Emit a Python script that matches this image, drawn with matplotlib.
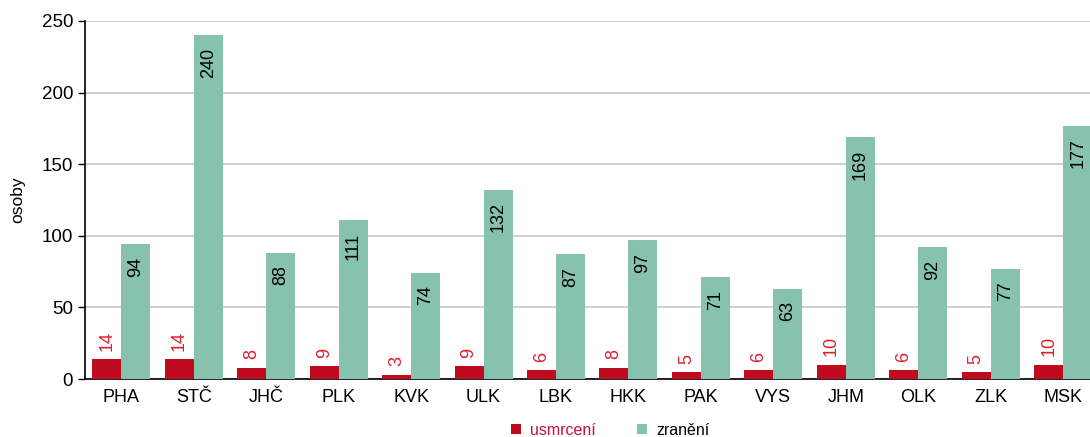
import numpy as np
import matplotlib.pyplot as plt

plt.rcParams['font.family'] = ['Liberation Sans', 'DejaVu Sans']

kraje = ['PHA', 'STČ', 'JHČ', 'PLK', 'KVK', 'ULK', 'LBK', 'HKK', 'PAK', 'VYS', 'JHM', 'OLK', 'ZLK', 'MSK']
usmrceni = [14, 14, 8, 9, 3, 9, 6, 8, 5, 6, 10, 6, 5, 10]
zraneni = [94, 240, 88, 111, 74, 132, 87, 97, 71, 63, 169, 92, 77, 177]

red = '#c00a1e'
green = '#86c2ad'

fig = plt.figure(figsize=(10.9, 4.37), dpi=100)
ax = fig.add_axes([0.078, 0.1327, 0.922, 0.8193])

x = np.arange(len(kraje))
w = 0.4
b1 = ax.bar(x - w/2, usmrceni, w, color=red, label='usmrcení', zorder=3)
b2 = ax.bar(x + w/2, zraneni, w, color=green, label='zranění', zorder=3)

# popisky hodnot
for xi, v in zip(x, usmrceni):
    ax.annotate(str(v), (xi - w/2, v), xytext=(0, 6), textcoords='offset points',
                rotation=90, ha='center', va='bottom', color='#e0202e', fontsize=13)
for xi, v in zip(x, zraneni):
    ax.annotate(str(v), (xi + w/2, v), xytext=(0, -9), textcoords='offset points',
                rotation=90, ha='center', va='top', color='black', fontsize=13)

ax.set_xlim(-0.5, 13.37)
ax.set_ylim(0, 250)
ax.set_yticks(range(0, 251, 50))
ax.set_xticks(x)
ax.set_xticklabels(kraje)
ax.tick_params(axis='x', length=0, labelsize=13, pad=7)
ax.tick_params(axis='y', length=5, labelsize=13.5, width=1)
ax.yaxis.grid(True, color='#c8c8c8', linewidth=1.2, zorder=0)
ax.set_axisbelow(True)
for s in ['top', 'right']:
    ax.spines[s].set_visible(False)
ax.spines['left'].set_linewidth(1.2)
ax.spines['bottom'].set_linewidth(1.2)
ax.set_ylabel('osoby', fontsize=12.5, labelpad=12)

leg = fig.legend(handles=[b1, b2], loc='lower center', bbox_to_anchor=(0.56, -0.035), ncol=2,
                 frameon=False, fontsize=11.5, handlelength=0.6, handleheight=0.6,
                 handletextpad=0.6, columnspacing=2.6)
leg.get_texts()[0].set_color('#c8103a')

fig.savefig('out.png', dpi=100)
